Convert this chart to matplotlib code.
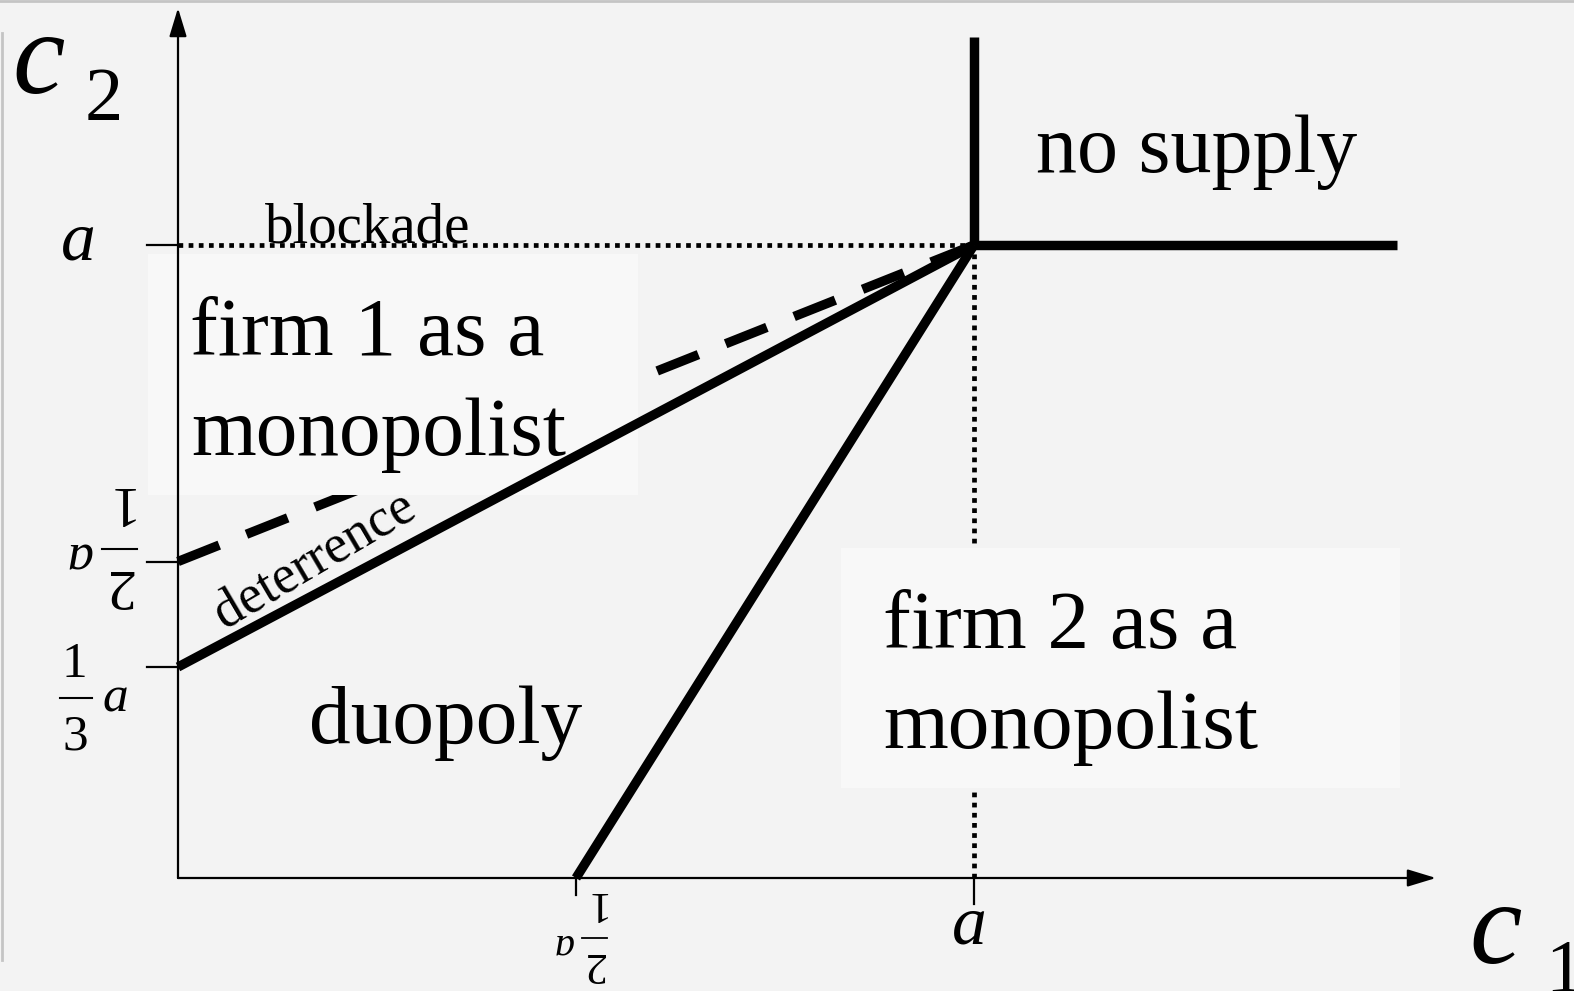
import matplotlib
matplotlib.use("Agg")
import matplotlib.pyplot as plt
from matplotlib.patches import Rectangle, FancyArrowPatch

# ---------------- data (in units of a) ----------------
a = 1.0
y_tick_values = [a, a / 2, a / 3]
x_tick_values = [a / 2, a]

# solid boundary: firm 1 monopoly vs duopoly  (c2 = a/3 + 2/3 c1)
firm1_line_x = [0.0, a]
firm1_line_y = [a / 3, a]
# dashed boundary: entry deterrence (c2 = a/2 + c1/2)
deter_line_x = [0.0, a]
deter_line_y = [a / 2, a]
# solid boundary: firm 2 monopoly vs duopoly
firm2_line_x = [a / 2, a]
firm2_line_y = [0.0, a]
# no supply corner
nosupply_v_x = [a, a]
nosupply_v_y = [a, 1.329]
nosupply_h_x = [a, 1.531]
nosupply_h_y = [a, a]
# blockade (dotted) lines
block_h_x = [0.0, a]
block_h_y = [a, a]
block_v_x = [a, a]
block_v_y = [0.0, a]

region_labels = ["firm 1 as a", "monopolist", "firm 2 as a", "monopolist",
                 "duopoly", "no supply"]

# ---------------- layout ----------------
W, H, DPI = 1574, 991, 100
X0, Y0, SX, SY = 178, 878, 796, 633   # pixel origin and pixels per unit a


def X(px):
    return (px - X0) / SX


def Y(py):
    return (Y0 - py) / SY


BG = "#f3f3f3"
BOX = "#f8f8f8"
SERIF = "Liberation Serif"

fig = plt.figure(figsize=(W / DPI, H / DPI), dpi=DPI, facecolor=BG)
ax = fig.add_axes([0, 0, 1, 1])
ax.set_facecolor(BG)
ax.axis("off")
ax.set_xlim(X(0), X(W))
ax.set_ylim(Y(H), Y(0))

# frame lines of the screenshot
ax.plot([X(0), X(W)], [Y(1.5), Y(1.5)], color="#c4c4c4", lw=2, zorder=0)
ax.plot([X(1.5), X(1.5)], [Y(33), Y(960)], color="#c4c4c4", lw=2, zorder=0)

# dashed deterrence line (below boxes)
dl, = ax.plot(deter_line_x, deter_line_y, color="k", lw=6.8,
              solid_capstyle="butt", dash_capstyle="butt", zorder=1)
dl.set_dashes((4.7, 3.1))

# dotted blockade lines
for xs, ys in [(block_h_x, block_h_y), (block_v_x, block_v_y)]:
    l, = ax.plot(xs, ys, color="k", lw=3.4, dash_capstyle="butt", zorder=1)
    l.set_dashes((1.0, 1.15))

# light boxes behind the region texts
for (px0, py0, px1, py1) in [(148, 254, 638, 495), (841, 548, 1400, 788)]:
    ax.add_patch(Rectangle((X(px0), Y(py1)), X(px1) - X(px0), Y(py0) - Y(py1),
                           facecolor=BOX, edgecolor="none", zorder=2))

# thick solid boundaries
for xs, ys in [(firm1_line_x, firm1_line_y), (firm2_line_x, firm2_line_y),
               (nosupply_v_x, nosupply_v_y), (nosupply_h_x, nosupply_h_y)]:
    ax.plot(xs, ys, color="k", lw=6.8, solid_capstyle="butt", zorder=3)

# axes with arrows
for start, end in [((0, 0), (X(1436), 0)), ((0, 0), (0, Y(8)))]:
    ax.add_patch(FancyArrowPatch(start, end,
                                 arrowstyle="-|>,head_length=1.25,head_width=0.38",
                                 mutation_scale=14, lw=1.6, color="k",
                                 shrinkA=0, shrinkB=0, zorder=3))

# ticks
for v in y_tick_values:
    ax.plot([X(147), 0], [v, v], color="k", lw=1.6, zorder=3)
for v, ln in zip(x_tick_values, [17, 26]):
    ax.plot([v, v], [0, Y(Y0 + ln)], color="k", lw=1.6, zorder=3)

txt = dict(family=SERIF, color="k", zorder=4)
ital = dict(family=SERIF, style="italic", color="k", zorder=4)

# axis titles
ax.text(X(12), Y(93), "c", fontsize=85, ha="left", va="baseline", **ital)
ax.text(X(85), Y(120), "2", fontsize=55, ha="left", va="baseline", **txt)
ax.text(X(1469), Y(963), "c", fontsize=85, ha="left", va="baseline", **ital)
ax.text(X(1545), Y(992), "1", fontsize=55, ha="left", va="baseline", **txt)

# tick labels
ax.text(X(78), Y(259), "a", fontsize=50, ha="center", va="baseline", **ital)
ax.text(X(969), Y(943), "a", fontsize=50, ha="center", va="baseline", **ital)

# 1/3 a
ax.text(X(74), Y(677), "1", fontsize=37, ha="center", va="baseline", **txt)
ax.text(X(75), Y(750), "3", fontsize=37, ha="center", va="baseline", **txt)
ax.plot([X(60), X(92)], [Y(698), Y(698)], color="k", lw=1.5, zorder=4)
ax.text(X(115), Y(711), "a", fontsize=37, ha="center", va="baseline", **ital)

# upside-down 1/2 a on the c2 axis
rot = dict(rotation=180, rotation_mode="anchor", ha="center", va="baseline")
ax.text(X(116), Y(487), "1", fontsize=42, **rot, **txt)
ax.text(X(118), Y(570), "2", fontsize=42, **rot, **txt)
ax.plot([X(102), X(137)], [Y(549), Y(549)], color="k", lw=1.5, zorder=4)
ax.text(X(78), Y(542), "a", fontsize=38, **rot, **ital)

# upside-down 1/2 a on the c1 axis
ax.text(X(594), Y(892), "1", fontsize=32, **rot, **txt)
ax.text(X(593), Y(953), "2", fontsize=32, **rot, **txt)
ax.plot([X(582), X(607)], [Y(938), Y(938)], color="k", lw=1.3, zorder=4)
ax.text(X(563), Y(934), "a", fontsize=29, **rot, **ital)

# region labels
ax.text(X(190), Y(355), region_labels[0], fontsize=60, ha="left", va="baseline", **txt)
ax.text(X(191), Y(455), region_labels[1], fontsize=60, ha="left", va="baseline", **txt)
ax.text(X(883), Y(648), region_labels[2], fontsize=60, ha="left", va="baseline", **txt)
ax.text(X(883), Y(748), region_labels[3], fontsize=60, ha="left", va="baseline", **txt)
ax.text(X(309), Y(743), region_labels[4], fontsize=60, ha="left", va="baseline", **txt)
ax.text(X(1036), Y(172), region_labels[5], fontsize=59, ha="left", va="baseline", **txt)

# small labels
ax.text(X(265), Y(243), "blockade", fontsize=41, ha="left", va="baseline", **txt)
ax.text(X(225), Y(630), "deterrence", fontsize=39, rotation=30.5,
        rotation_mode="anchor", ha="left", va="baseline", **txt)

fig.savefig("out.png", dpi=DPI, facecolor=BG)
